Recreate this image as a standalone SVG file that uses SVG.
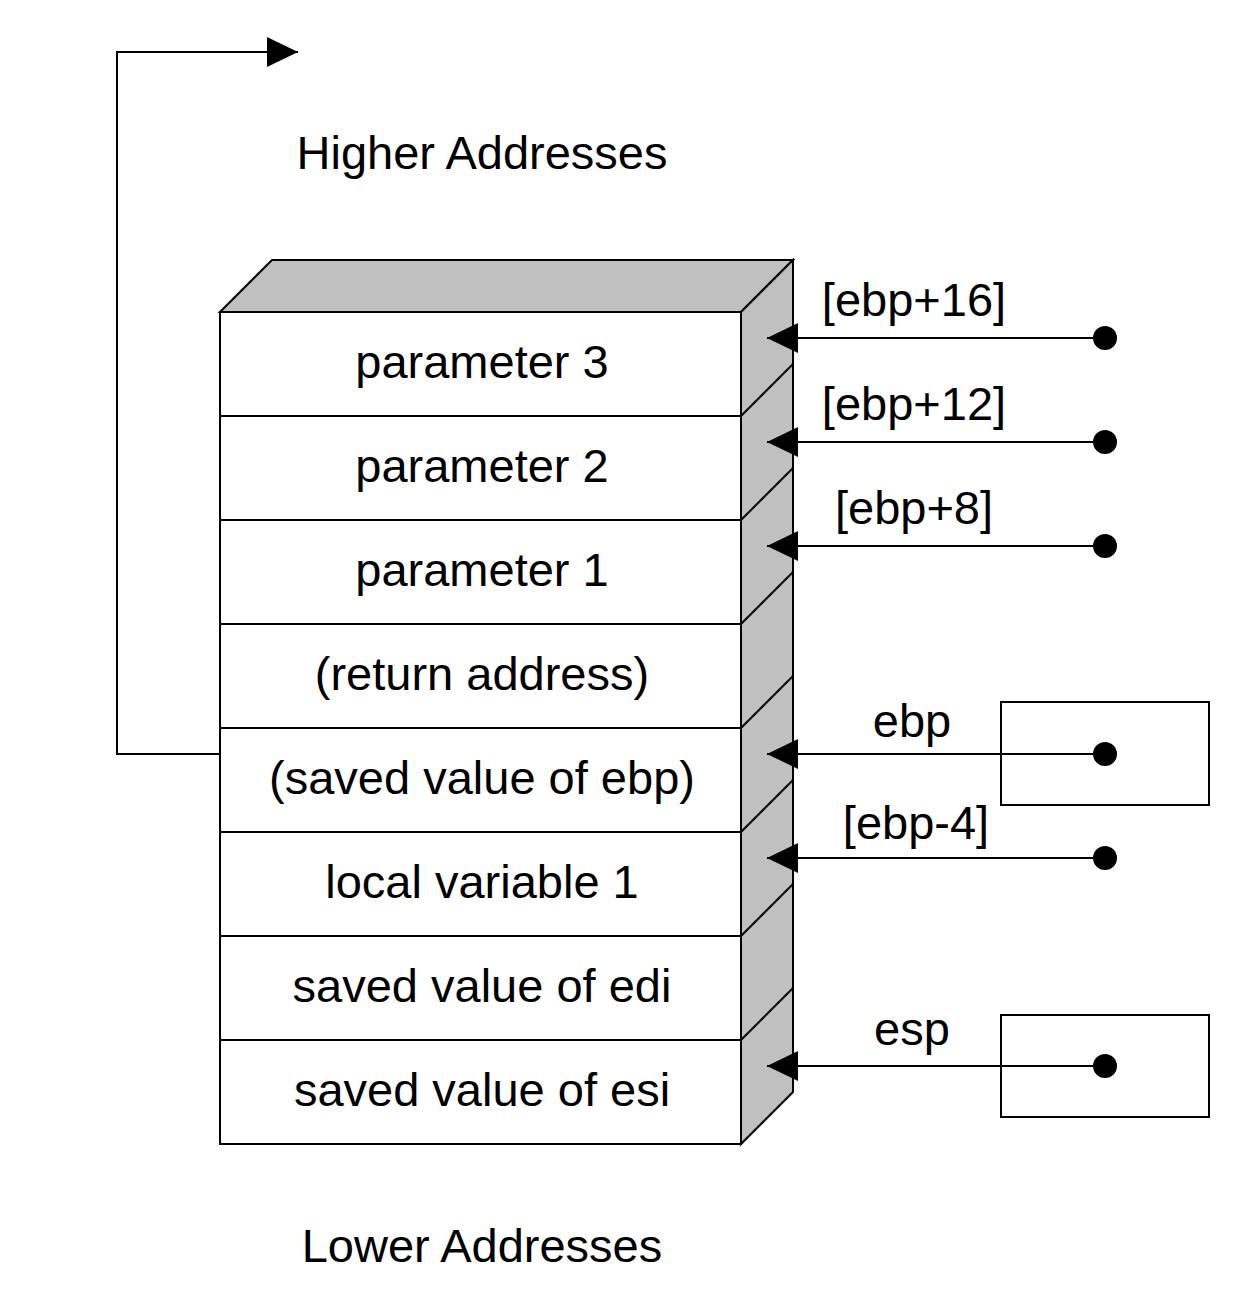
<svg xmlns="http://www.w3.org/2000/svg" width="1252" height="1312" viewBox="0 0 1252 1312">
<defs>
<style>
.t{font-family:"Liberation Sans",Arial,sans-serif;font-size:47px;fill:#000;text-anchor:middle}
.ln{stroke:#000;stroke-width:2;fill:none}
.cell{fill:#fff;stroke:#000;stroke-width:2}
.side{fill:#c0c0c0;stroke:#000;stroke-width:2;stroke-linejoin:miter}
.dot{fill:#000}
.box{fill:none;stroke:#000;stroke-width:2}
</style>
<marker id="ah" viewBox="0 0 31 30" refX="31" refY="15" markerWidth="31" markerHeight="30" markerUnits="userSpaceOnUse" orient="auto">
<path d="M0,0 L31,15 L0,30 Z" fill="#000"/>
</marker>
</defs>
<rect width="1252" height="1312" fill="#fff"/>
<text class="t" x="482" y="169">Higher Addresses</text>
<text class="t" x="482" y="1262">Lower Addresses</text>
<g id="stack">
<polygon class="side" points="220,312 272,260 793,260 741,312"/>
<polygon class="side" points="741,312 793,260 793,1092 741,1144"/>
<path class="ln" d="M741,416 L793,364 M741,520 L793,468 M741,624 L793,572 M741,728 L793,676 M741,832 L793,780 M741,936 L793,884 M741,1040 L793,988"/>
</g>
<g id="row-param3"><rect class="cell" x="220" y="312" width="521" height="104"/><text class="t" x="482" y="378">parameter 3</text></g>
<g id="row-param2"><rect class="cell" x="220" y="416" width="521" height="104"/><text class="t" x="482" y="482">parameter 2</text></g>
<g id="row-param1"><rect class="cell" x="220" y="520" width="521" height="104"/><text class="t" x="482" y="586">parameter 1</text></g>
<g id="row-ret"><rect class="cell" x="220" y="624" width="521" height="104"/><text class="t" x="482" y="690">(return address)</text></g>
<g id="row-savedebp"><rect class="cell" x="220" y="728" width="521" height="104"/><text class="t" x="482" y="794">(saved value of ebp)</text></g>
<g id="row-local1"><rect class="cell" x="220" y="832" width="521" height="104"/><text class="t" x="482" y="898">local variable 1</text></g>
<g id="row-edi"><rect class="cell" x="220" y="936" width="521" height="104"/><text class="t" x="482" y="1002">saved value of edi</text></g>
<g id="row-esi"><rect class="cell" x="220" y="1040" width="521" height="104"/><text class="t" x="482" y="1106">saved value of esi</text></g>
<g id="reg-ebp"><rect class="box" x="1001" y="702" width="208" height="103"/><text class="t" x="912" y="737">ebp</text></g>
<g id="reg-esp"><rect class="box" x="1001" y="1015" width="208" height="102"/><text class="t" x="912" y="1045">esp</text></g>
<g id="labels">
<text class="t" x="914" y="316">[ebp+16]</text>
<text class="t" x="914" y="420">[ebp+12]</text>
<text class="t" x="914" y="524">[ebp+8]</text>
<text class="t" x="916" y="839">[ebp-4]</text>
</g>
<g id="connectors">
<path class="ln" d="M220,754 L117,754 L117,52 L298,52" marker-end="url(#ah)"/>
<path class="ln" d="M1105,338 L767,338" marker-end="url(#ah)"/>
<path class="ln" d="M1105,442 L767,442" marker-end="url(#ah)"/>
<path class="ln" d="M1105,546 L767,546" marker-end="url(#ah)"/>
<path class="ln" d="M1105,754 L767,754" marker-end="url(#ah)"/>
<path class="ln" d="M1105,858 L767,858" marker-end="url(#ah)"/>
<path class="ln" d="M1105,1066 L767,1066" marker-end="url(#ah)"/>
<circle class="dot" cx="1105" cy="338" r="12"/>
<circle class="dot" cx="1105" cy="442" r="12"/>
<circle class="dot" cx="1105" cy="546" r="12"/>
<circle class="dot" cx="1105" cy="754" r="12"/>
<circle class="dot" cx="1105" cy="858" r="12"/>
<circle class="dot" cx="1105" cy="1066" r="12"/>
</g>
</svg>
